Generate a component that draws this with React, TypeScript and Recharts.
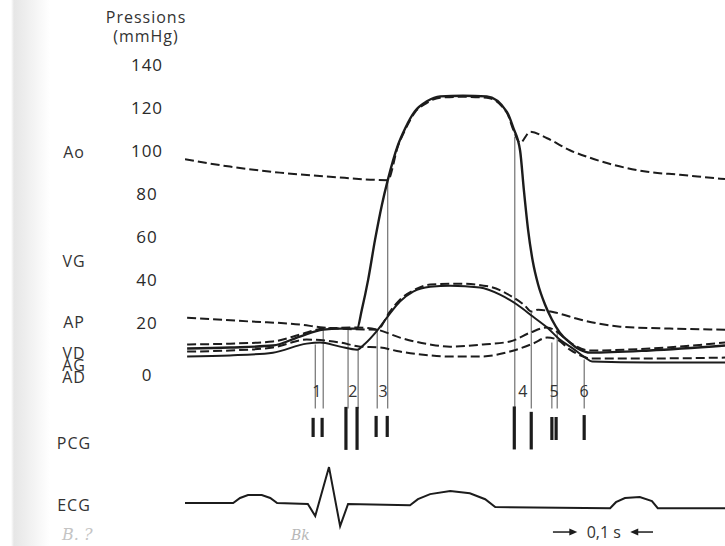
import { LineChart, Line, XAxis, YAxis, ReferenceLine, ReferenceDot } from "recharts";

type Pt = [number, number];

// pressures: [time (ms), mmHg]
const aorta: Pt[] = [
  [0, 96], [85, 92.6], [179, 89.8], [274, 87.9], [383, 86.3], [402, 101.9], [416, 109.8],
  [434, 117.7], [457, 122.3], [482, 124.7], [525, 125.1], [570, 124.7], [608, 117.7],
  [620, 109.8], [633, 103.7], [652, 108.8], [684, 105.8], [727, 100.2], [765, 96.7],
  [808, 93.5], [873, 90.2], [935, 88.8], [1011, 87], [1020, 86.8],
];
const leftVentricle: Pt[] = [
  [4, 7.9], [85, 8.4], [166, 9.3], [217, 13.5], [261, 16.7], [293, 17.2], [325, 17.2],
  [334, 26], [346, 40], [359, 58.6], [372, 74.9], [383, 86.3], [402, 102.5], [416, 110.5],
  [434, 118.3], [457, 123], [482, 125.3], [525, 125.6], [570, 125.3], [608, 118.1],
  [620, 110.7], [633, 100], [640, 81.9], [648, 63.3], [657, 48.4], [667, 37.7], [680, 28.4],
  [693, 21.4], [708, 15.3], [727, 10.7], [746, 7.4], [765, 6], [878, 7], [1020, 9.3],
];
const pulmonaryArtery: Pt[] = [
  [4, 22.3], [123, 20.5], [217, 19.1], [261, 17.7], [363, 16.7], [387, 25.1], [406, 30.7],
  [434, 35.3], [463, 37.7], [519, 38.1], [576, 36.7], [614, 32.6], [642, 27.9], [654, 25.1],
  [667, 26], [699, 24.7], [746, 21.4], [822, 18.1], [916, 17.2], [1020, 16.7],
];
const rightVentricle: Pt[] = [
  [4, 4.2], [85, 4.7], [166, 6], [230, 10.2], [255, 10.7], [293, 8.8], [325, 7.4], [340, 10.2],
  [363, 16.3], [387, 24.2], [406, 29.8], [431, 34.4], [463, 36.7], [501, 37.2], [557, 36.3],
  [595, 33], [627, 28.4], [657, 22.8], [684, 17.7], [708, 12.1], [733, 7.9], [756, 3.7],
  [769, 1.9], [878, 1.4], [1020, 1.4],
];
const leftAtrium: Pt[] = [
  [4, 9.8], [85, 10.2], [166, 11.2], [217, 14.4], [261, 17.2], [325, 17.7], [363, 16.7],
  [406, 13], [463, 9.8], [501, 8.8], [563, 9.8], [614, 11.2], [652, 15.3], [684, 17.7],
  [699, 16.3], [718, 12.6], [740, 8.8], [765, 7], [878, 7.9], [1020, 10.7],
];
const rightAtrium: Pt[] = [
  [4, 6.5], [85, 7], [166, 8.4], [230, 12.1], [293, 10.7], [331, 8.8], [368, 8.4], [406, 6.5],
  [463, 4.7], [501, 4.2], [557, 4.2], [614, 6.5], [657, 10.2], [684, 13], [703, 12.1],
  [727, 7.4], [752, 4.2], [765, 3.3], [878, 3.3], [1020, 3.7],
];

// ECG: [time (ms), mV]
const ecg: Pt[] = [
  [0, 0], [91, 0], [104, 0.17], [119, 0.27], [145, 0.27], [161, 0.17], [174, 0], [232, -0.03],
  [246, -0.43], [272, 1.2], [293, -0.77], [308, -0.03], [425, -0.07], [440, 0.13], [463, 0.3],
  [501, 0.4], [538, 0.33], [567, 0.13], [586, -0.13], [803, -0.17], [814, 0.03], [831, 0.17],
  [859, 0.2], [882, 0.07], [893, -0.17], [1020, -0.17],
];

// PCG sounds: [time (ms), top, bottom] in relative amplitude
const heartSounds: [number, number, number][] = [
  [242, 0.47, -0.42], [259, 0.47, -0.42], [304, 0.98, -1.02], [325, 0.98, -1.02],
  [361, 0.56, -0.42], [382, 0.56, -0.42], [622, 1, -1], [654, 0.75, -1],
  [693, 0.51, -0.56], [701, 0.51, -0.56], [754, 0.6, -0.56],
];

// thin event lines: [time (ms), pressure where they start]
const eventLines: Pt[] = [
  [246, 9.8], [261, 17.7], [308, 16.7], [327, 7.4], [363, 16.7], [383, 86],
  [623, 106.5], [654, 24.7], [693, 10.7], [703, 15.3], [754, 2.8],
];
const eventTimes = [249, 317, 374, 638, 697, 754];
const eventNames = ["1", "2", "3", "4", "5", "6"];

const pressureTicks = [0, 20, 40, 60, 80, 100, 120, 140];
const traceNames = ["Ao", "VG", "AP", "VD", "AG", "AD", "PCG", "ECG"];
const scaleBar: Pt = [741, 841]; // 0,1 s

const rows = (pts: Pt[]) => pts.map(([t, v]) => ({ t, v }));

const FONT = "'Open Sans', sans-serif";
const INK = "#1c1c1c";

const PressureTick = (props: any) => {
  const { y, payload } = props;
  const shift = payload.value === 0 ? 9 : 0;
  return (
    <text x={147} y={y + shift} textAnchor="middle" dominantBaseline="central"
      fontFamily={FONT} fontSize={17} letterSpacing={1} fill="#2a2a2a">
      {payload.value}
    </text>
  );
};

const arrowRight = (p: any) => (
  <polygon points={`${p.cx},${p.cy} ${p.cx - 8},${p.cy - 3.5} ${p.cx - 8},${p.cy + 3.5}`} fill={INK} />
);
const arrowLeft = (p: any) => (
  <polygon points={`${p.cx},${p.cy} ${p.cx + 8},${p.cy - 3.5} ${p.cx + 8},${p.cy + 3.5}`} fill={INK} />
);

const labelY = [152, 261, 322, 353, 365, 377, 443, 505];

export default function App() {
  const pressureLine = (data: Pt[], dashed: boolean, w = 2) => (
    <Line data={rows(data)} dataKey="v" yAxisId="p" type="monotone" stroke={INK}
      strokeWidth={w} strokeDasharray={dashed ? "9 4" : undefined}
      dot={false} activeDot={false} isAnimationActive={false} />
  );
  const eventFloor = -20;
  const labelLevel = 1.72;
  const scaleLevel = -4.84;

  return (
    <div style={{ position: "absolute", left: 0, top: 0, width: 725, height: 546, background: "#fff", overflow: "hidden" }}>
      <div style={{ position: "absolute", left: 0, top: 0, width: 55, height: 546,
        background: "linear-gradient(to right, #fff 0px, #fff 11px, #e6e6e6 14px, #fff 50px)" }} />
      <svg width={725} height={546} style={{ position: "absolute", left: 0, top: 0 }}>
        <g fontFamily={FONT} fontSize={16} letterSpacing={1} fill="#333" textAnchor="middle">
          <text x={146} y={23}>Pressions</text>
          <text x={146} y={42}>(mmHg)</text>
          {traceNames.map((n, i) => (
            <text key={n} x={74} y={labelY[i]} dominantBaseline="central">{n}</text>
          ))}
        </g>
        <text x={62} y={540} fontFamily="'DejaVu Serif', serif" fontStyle="italic" fontSize={16} fill="#c4c4c4">B. ?</text>
        <text x={291} y={540} fontFamily="'DejaVu Serif', serif" fontStyle="italic" fontSize={14} fill="#b8b8b8">Bk</text>
      </svg>
      <div style={{ position: "absolute", left: 0, top: 0 }}>
        <LineChart width={725} height={546} margin={{ top: 39, right: 0, bottom: 0, left: 0 }}>
          <XAxis xAxisId={0} type="number" dataKey="t" domain={[0, 1020]} hide allowDataOverflow />
          <YAxis yAxisId="p" type="number" width={185} domain={[-84, 152]} ticks={pressureTicks}
            axisLine={false} tickLine={false} tickSize={0} tick={<PressureTick />} allowDataOverflow />
          <YAxis yAxisId="ecg" type="number" domain={[-1.43, 15.47]} hide allowDataOverflow />
          <YAxis yAxisId="pcg" type="number" domain={[-5.49, 18.09]} hide allowDataOverflow />

          {eventLines.map(([t, top], i) => (
            <ReferenceLine key={`ev${i}`} yAxisId="p" ifOverflow="visible" stroke="#555" strokeWidth={1}
              segment={[{ x: t, y: top }, { x: t, y: eventFloor }]} />
          ))}
          {heartSounds.map(([t, top, bottom], i) => (
            <ReferenceLine key={`pcg${i}`} yAxisId="pcg" ifOverflow="visible" stroke={INK} strokeWidth={3.2}
              segment={[{ x: t, y: top }, { x: t, y: bottom }]} />
          ))}
          {eventTimes.map((t, i) => (
            <ReferenceDot key={`n${i}`} x={t} y={labelLevel} yAxisId="pcg" r={0} ifOverflow="visible"
              stroke="none" fill="none"
              label={{ value: eventNames[i], position: "center", fontFamily: FONT, fontSize: 16, fill: "#333" }} />
          ))}

          {pressureLine(aorta, true)}
          {pressureLine(pulmonaryArtery, true)}
          {pressureLine(leftAtrium, true)}
          {pressureLine(rightAtrium, true)}
          {pressureLine(rightVentricle, false)}
          {pressureLine(leftVentricle, false, 2.4)}

          <Line data={rows(ecg)} dataKey="v" yAxisId="ecg" type="linear" stroke={INK} strokeWidth={2}
            dot={false} activeDot={false} isAnimationActive={false} />

          <ReferenceLine yAxisId="pcg" ifOverflow="visible" stroke={INK} strokeWidth={1.5}
            segment={[{ x: scaleBar[0] - 46, y: scaleLevel }, { x: scaleBar[0] - 8, y: scaleLevel }]} />
          <ReferenceLine yAxisId="pcg" ifOverflow="visible" stroke={INK} strokeWidth={1.5}
            segment={[{ x: scaleBar[1] + 8, y: scaleLevel }, { x: scaleBar[1] + 43, y: scaleLevel }]} />
          <ReferenceDot x={scaleBar[0]} y={scaleLevel} yAxisId="pcg" ifOverflow="visible" shape={arrowRight} />
          <ReferenceDot x={scaleBar[1]} y={scaleLevel} yAxisId="pcg" ifOverflow="visible" shape={arrowLeft} />
          <ReferenceDot x={(scaleBar[0] + scaleBar[1]) / 2} y={scaleLevel} yAxisId="pcg" r={0} ifOverflow="visible"
            stroke="none" fill="none"
            label={{ value: "0,1 s", position: "center", fontFamily: FONT, fontSize: 16, fill: "#333" }} />
        </LineChart>
      </div>
    </div>
  );
}
